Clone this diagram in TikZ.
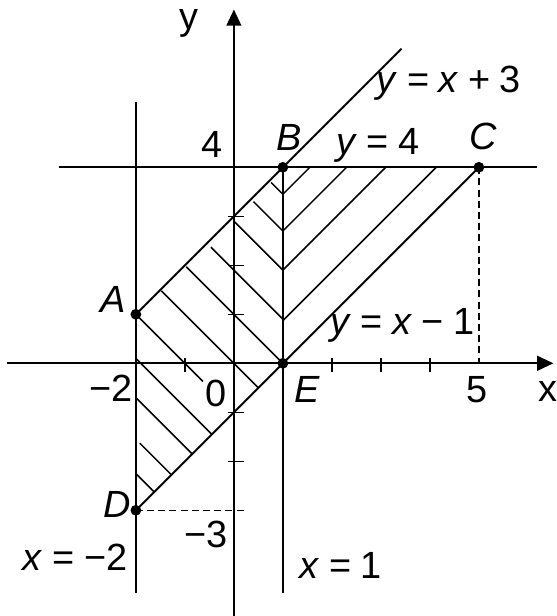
\documentclass[tikz,border=0pt]{standalone}
\usepackage{fontspec}
\setmainfont{Liberation Sans}
\usetikzlibrary{arrows.meta}
\newcommand{\eqgap}{\hspace{0.25em}}

\begin{document}
\begin{tikzpicture}[x=1cm,y=1cm,
  ax/.style={-{Triangle[length=0.33cm,width=0.3cm]},line width=1.2pt},
  ln/.style={line width=1.1pt},
  hatch/.style={line width=0.9pt},
  dsh/.style={line width=0.9pt,dash pattern=on 4pt off 2.5pt},
  tck/.style={line width=0.9pt},
  dot/.style={circle,fill,inner sep=0pt,minimum size=0.22cm},
  lbl/.style={font=\fontsize{22}{26}\selectfont,inner sep=0pt}]
  \useasboundingbox (-4.773,-5.157) rectangle (6.594,7.414);
  % axes
  \coordinate (xl) at (-4.62,0);
  \coordinate (xr) at (6.52,0);
  \coordinate (yb) at (0,-5.16);
  \coordinate (yt) at (0,7.22);
  \draw[ax] (xl) -- (xr);
  \draw[ax] (yb) -- (yt);
  \foreach \t in {-1,2,3,4}{\draw[tck] (\t,0.1) -- (\t,-0.17);}
  \foreach \t in {-2,-1,1,2,3}{\draw[tck] (-0.11,\t) -- (0.2,\t);}
  % corner points
  \node[dot] (A) at (-2,1) {};
  \node[dot] (B) at (1,4) {};
  \node[dot] (C) at (5,4) {};
  \node[dot] (D) at (-2,-3) {};
  \node[dot] (E) at (1,0) {};
  % boundary lines
  \coordinate (h1) at (-3.57,4);
  \coordinate (h2) at (6.19,4);
  \coordinate (v1) at (-2,5.34);
  \coordinate (v2) at (-2,-4.69);
  \coordinate (w2) at (1,-4.69);
  \coordinate (p3) at (3.42,6.42);
  \coordinate (c0) at (5,0);
  \coordinate (d0) at (0.23,-3);
  \draw[ln] (h1) -- (h2);
  \draw[ln] (v1) -- (v2);
  \draw[ln] (B.center) -- (w2);
  \draw[ln] (A.center) -- (p3);
  \draw[ln] (D.center) -- (C.center);
  \draw[dsh] (C.center) -- (c0);
  \draw[dsh] (D.center) -- (d0);
  % hatching
  \foreach \a/\b/\c in {0.76/1/4.45,0.40/1/3.7,0/1/2.9,-0.47/1/1.9,-0.97/1/1,
    -1.48/0.5/0,-2/-0.63/-1,-2/-0.45/-1.9,-2/-0.85/-2.7,-1.92/-1.27/-3.55,-2/-1.63/-4.25}
    {\draw[hatch] (\a,{\c-\a}) -- (\b,{\c-\b});}
  \foreach \y in {3.45,2.7,1.9,0.87}{\draw[hatch] (1,\y) -- ({5-\y},4);}
  % labels
  \node[lbl] (ly) at (-0.91,6.94) {y};
  \node[lbl] (lx) at (6.40,-0.58) {x};
  \node[lbl] (l4) at (-0.45,4.46) {4};
  \node[lbl] (l5) at (4.96,-0.54) {5};
  \node[lbl] (l0) at (-0.37,-0.61) {0};
  \node[lbl] (lm2) at (-2.51,-0.51) {−2};
  \node[lbl] (lm3) at (-0.56,-3.49) {−3};
  \node[lbl] (tA) at (-2.46,1.31) {\itshape A};
  \node[lbl] (tB) at (1.13,4.61) {\itshape B};
  \node[lbl] (tC) at (5.09,4.62) {\itshape C};
  \node[lbl] (tD) at (-2.39,-2.89) {\itshape D};
  \node[lbl] (tE) at (1.49,-0.53) {\itshape E};
  \node[lbl] (eq1) at (4.39,5.71) {\textit{y}\eqgap=\eqgap\textit{x}\eqgap+\eqgap3};
  \node[lbl] (eq2) at (2.94,4.45) {\textit{y}\eqgap=\eqgap4};
  \node[lbl] (eq3) at (3.44,0.78) {\textit{y}\eqgap=\eqgap\textit{x}\eqgap−\eqgap1};
  \node[lbl] (eq4) at (-3.24,-3.96) {\textit{x}\eqgap=\eqgap−2};
  \node[lbl] (eq5) at (2.18,-4.13) {\textit{x}\eqgap=\eqgap1};
\end{tikzpicture}
\end{document}
